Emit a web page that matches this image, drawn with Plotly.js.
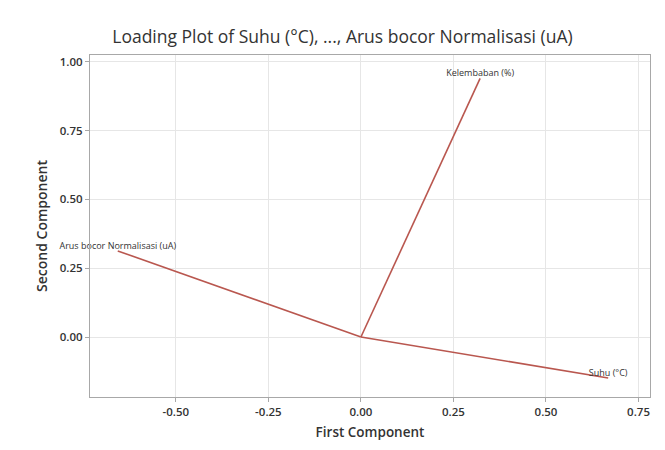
<!DOCTYPE html>
<html>
<head>
<meta charset="utf-8">
<script src="https://cdn.plot.ly/plotly-3.0.1.min.js"></script>
<style>html,body{margin:0;padding:0;background:#fff;}#chart{width:665px;height:450px;}</style>
</head>
<body>
<div id="chart"></div>
<script>
const variables = ["Suhu (°C)", "Kelembaban (%)", "Arus bocor Normalisasi (uA)"];
const firstComponent = [0.668, 0.322, -0.657];
const secondComponent = [-0.149, 0.940, 0.313];
const xTicks = [-0.5, -0.25, 0, 0.25, 0.5, 0.75];
const yTicks = [0, 0.25, 0.5, 0.75, 1.0];

const lineColor = "#b9574f";
const traces = variables.map((name, i) => ({
  type: "scatter",
  mode: "lines+text",
  x: [0, firstComponent[i]],
  y: [0, secondComponent[i]],
  text: ["", name],
  textposition: "top center",
  textfont: {family: "Open Sans, sans-serif", size: 9, color: "#333"},
  line: {color: lineColor, width: 1.6},
  cliponaxis: false,
  hoverinfo: "skip",
  showlegend: false
}));

const axisCommon = {
  showgrid: true,
  gridcolor: "#e6e6e6",
  gridwidth: 1,
  zeroline: false,
  showline: true,
  mirror: true,
  linecolor: "#a8a8a8",
  linewidth: 1,
  ticks: "outside",
  ticklen: 4,
  tickcolor: "#a8a8a8",
  tickfont: {family: "Open Sans, sans-serif", size: 11.5, color: "#333", weight: 600}
};

const layout = {
  width: 665,
  height: 450,
  paper_bgcolor: "#fff",
  plot_bgcolor: "#fff",
  margin: {l: 90, r: 15, t: 55, b: 53},
  title: {
    text: "Loading Plot of Suhu (°C), ..., Arus bocor Normalisasi (uA)",
    font: {family: "Open Sans, sans-serif", size: 17.5, color: "#333"},
    x: 0.515, xanchor: "center", y: 0.918, yanchor: "middle"
  },
  xaxis: Object.assign({}, axisCommon, {
    range: [-0.732, 0.781],
    tickvals: xTicks,
    ticktext: xTicks.map(v => v.toFixed(2)),
    title: {text: "First Component", font: {family: "Open Sans, sans-serif", size: 13.5, color: "#333", weight: 600}, standoff: 9}
  }),
  yaxis: Object.assign({}, axisCommon, {
    range: [-0.218, 1.025],
    tickvals: yTicks,
    ticktext: yTicks.map(v => v.toFixed(2)),
    title: {text: "Second Component", font: {family: "Open Sans, sans-serif", size: 14, color: "#333", weight: 600}, standoff: 8}
  })
};

Plotly.newPlot("chart", traces, layout, {displayModeBar: false, staticPlot: true});
</script>
</body>
</html>
